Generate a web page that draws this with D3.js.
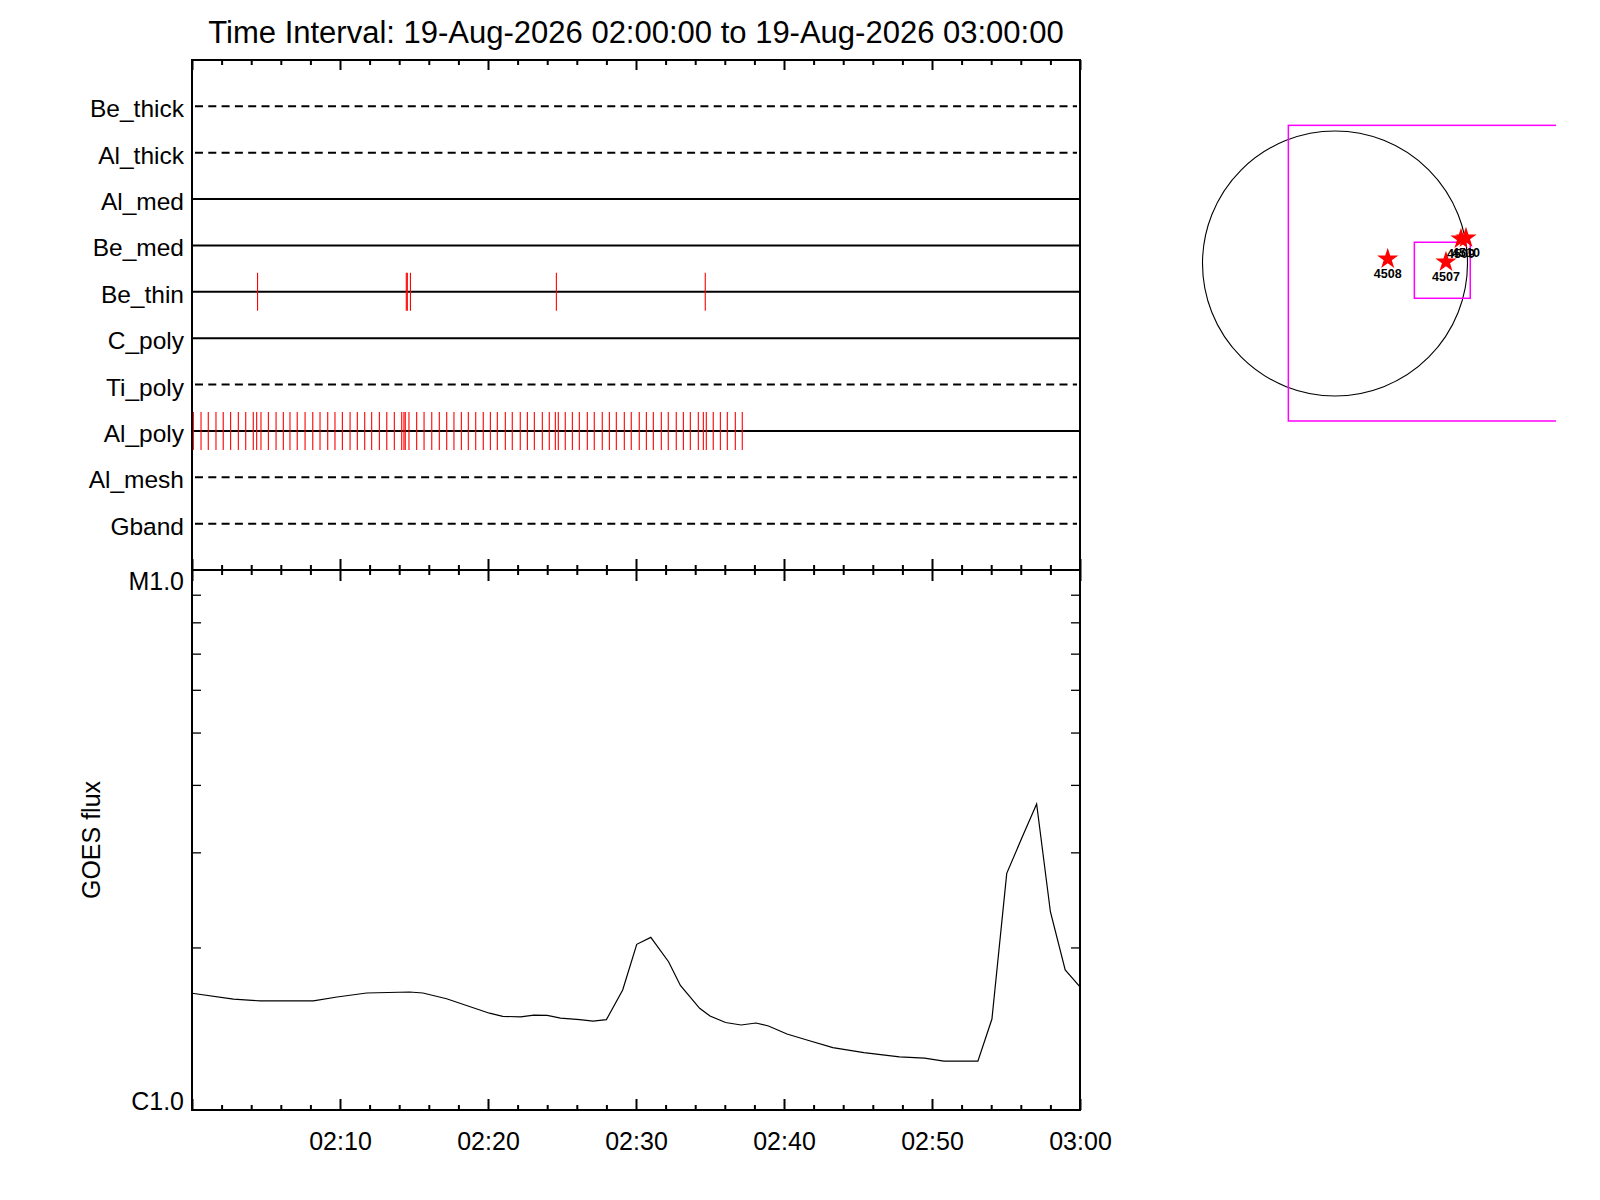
<!DOCTYPE html>
<html><head><meta charset="utf-8">
<script src="https://cdn.jsdelivr.net/npm/d3@7"></script>
<style>
body{margin:0;background:#fff}
svg{display:block}
text{font-family:"Liberation Sans",Arial,Helvetica,sans-serif;fill:#000}
</style>
</head><body>
<svg id="c" width="1600" height="1200"></svg>
<script>
// ---------------- DATA ----------------
const titleText = "Time Interval: 19-Aug-2026 02:00:00 to 19-Aug-2026 03:00:00";
const startUTC = Date.UTC(2026, 7, 19, 2, 0, 0);
const endUTC = Date.UTC(2026, 7, 19, 3, 0, 0);

const channels = ["Be_thick","Al_thick","Al_med","Be_med","Be_thin","C_poly","Ti_poly","Al_poly","Al_mesh","Gband"];
const channelActive = [false,false,true,true,true,true,false,true,false,false];

// event times, minutes after 02:00
const beThinEvents = [4.43, 14.48, 14.55, 14.76, 24.62, 34.68];
const alPolyEvents = [0.09,0.61,1.10,1.62,2.11,2.61,3.13,3.63,4.14,4.37,4.66,5.16,5.68,6.17,6.62,7.11,7.64,8.16,8.65,9.17,
  9.66,10.16,10.68,11.17,11.67,12.14,12.66,13.16,13.67,14.17,14.32,14.41,14.66,15.18,15.68,16.20,16.71,17.21,17.70,18.20,
  18.67,19.17,19.68,20.16,20.63,21.17,21.64,22.18,22.66,23.13,23.67,24.14,24.55,24.75,25.22,25.70,26.17,26.71,27.18,27.72,
  28.20,28.67,29.21,29.68,30.22,30.70,31.17,31.71,32.18,32.72,33.20,33.67,34.21,34.55,34.75,35.22,35.70,36.17,36.71,37.18];

// GOES flux (W/m^2), times in minutes after 02:00
const goesTimes = [0,2.8,4.6,8.2,9.8,11.8,14.7,15.6,17.2,20.1,21.0,22.2,23.1,24.0,24.9,26.2,27.1,28.0,29.1,30.05,
  31.0,32.2,33.0,34.3,35.0,36.05,37.1,38.1,38.95,40.2,41.55,43.3,45.4,47.8,49.5,50.8,53.1,54.05,55.05,56.06,
  57.07,58.0,59.0,60.0];
const goesFlux = [1.645,1.605,1.592,1.592,1.619,1.647,1.654,1.647,1.607,1.511,1.491,1.487,1.498,1.497,1.480,1.470,1.461,1.470,1.668,2.027,
  2.088,1.882,1.701,1.543,1.493,1.452,1.437,1.449,1.431,1.383,1.348,1.305,1.277,1.254,1.248,1.232,1.232,1.474,2.743,3.185,
  3.687,2.329,1.817,1.691].map(v => v * 1e-6);

const xTickLabels = ["02:10","02:20","02:30","02:40","02:50","03:00"];
const yTickLabels = ["C1.0","M1.0"];
const yTickValues = [1e-6, 1e-5];
const yMinorValues = [2e-6,3e-6,4e-6,5e-6,6e-6,7e-6,8e-6,9e-6];
const yAxisTitle = "GOES flux";

// Solar disk overlay (arcsec)
const solarRadius = 960;
const arNumbers = ["4508","4507","4509","4510"];
const arX = [382, 804, 913, 949];
const arY = [33, 11, 178, 185];
const fovX = [-338, 1700];
const fovY = [-1141, 1001];
const roiX = [575, 980];
const roiY = [-252, 154];

// ---------------- LAYOUT ----------------
const L = 192, R = 1080, T = 60, M = 570, B = 1110;
const svg = d3.select("#c");

const x = d3.scaleUtc().domain([new Date(startUTC), new Date(endUTC)]).range([L, R]);
const tm = m => new Date(startUTC + m * 60000);
const yRow = d3.scalePoint().domain(channels).range([T, M]).padding(1);
const y = d3.scaleLog().domain([1e-6, 1e-5]).range([B, M]);

// title
svg.append("text").attr("x", (L + R) / 2).attr("y", 43).attr("text-anchor", "middle")
  .attr("font-size", 31).text(titleText);

// ---------------- TOP PANEL ----------------
const topG = svg.append("g");
channels.forEach((c, i) => {
  const yy = yRow(c);
  topG.append("line").attr("x1", channelActive[i] ? L : L + 3).attr("x2", channelActive[i] ? R : R - 3)
    .attr("y1", yy).attr("y2", yy).attr("stroke", "#000").attr("stroke-width", 2)
    .attr("stroke-dasharray", channelActive[i] ? null : "8,5.3");
  topG.append("text").attr("x", 184).attr("y", yy + 11).attr("text-anchor", "end")
    .attr("font-size", 24.5).text(c);
});
function events(name, arr) {
  const yy = yRow(name);
  topG.selectAll(null).data(arr).enter().append("line")
    .attr("x1", d => x(tm(d))).attr("x2", d => x(tm(d)))
    .attr("y1", yy - 19).attr("y2", yy + 19)
    .attr("stroke", "#ff0000").attr("stroke-width", 1.1);
}
events("Be_thin", beThinEvents);
events("Al_poly", alPolyEvents);

// ---------------- X AXES ----------------
const majorT = d3.utcMinute.every(10).range(new Date(startUTC), new Date(endUTC + 1));
const minorT = d3.utcMinute.every(2).range(new Date(startUTC), new Date(endUTC + 1)).filter(d => d.getUTCMinutes() % 10 !== 0);
function ticks(gen, yPos, vals, size) {
  const g = svg.append("g").attr("transform", `translate(0,${yPos})`)
    .call(gen(x).tickValues(vals).tickSize(size).tickFormat(""));
  g.select(".domain").remove();
  g.selectAll("line").attr("stroke-width", 2);
}
ticks(d3.axisBottom, T, majorT, 10);
ticks(d3.axisBottom, T, minorT, 5);
ticks(d3.axisTop, M, majorT, 11);
ticks(d3.axisTop, M, minorT, 5);
ticks(d3.axisBottom, M, majorT, 11);
ticks(d3.axisBottom, M, minorT, 5);
ticks(d3.axisTop, B, majorT, 11);
ticks(d3.axisTop, B, minorT, 5);
const lab = svg.append("g").attr("transform", `translate(0,${B})`)
  .call(d3.axisBottom(x).tickValues(xTickLabels.map(s => {
      const [h, m] = s.split(":").map(Number); return new Date(Date.UTC(2026, 7, 19, h, m, 0));
    })).tickSize(0).tickPadding(22.5).tickFormat(d3.utcFormat("%H:%M")));
lab.select(".domain").remove();
lab.selectAll("text").attr("font-size", 25).attr("font-family", "'Liberation Sans',Arial,sans-serif");

// ---------------- Y AXES (lower panel) ----------------
const yl = svg.append("g").attr("transform", `translate(${L},0)`)
  .call(d3.axisRight(y).tickValues(yMinorValues).tickSize(9).tickFormat(""));
yl.select(".domain").remove();
yl.selectAll("line").attr("stroke-width", 1.3);
const yr = svg.append("g").attr("transform", `translate(${R},0)`)
  .call(d3.axisLeft(y).tickValues(yMinorValues).tickSize(9).tickFormat(""));
yr.select(".domain").remove();
yr.selectAll("line").attr("stroke-width", 1.3);

svg.append("text").attr("x", 184).attr("y", y(yTickValues[0])).attr("text-anchor", "end")
  .attr("font-size", 25).text(yTickLabels[0]);
svg.append("text").attr("x", 184).attr("y", y(yTickValues[1]) + 19.5).attr("text-anchor", "end")
  .attr("font-size", 25).text(yTickLabels[1]);
svg.append("text").attr("transform", `translate(100,${(M + B) / 2}) rotate(-90)`)
  .attr("text-anchor", "middle").attr("font-size", 25).text(yAxisTitle);

// GOES curve
const line = d3.line().x((d, i) => x(tm(goesTimes[i]))).y(d => y(d));
svg.append("path").datum(goesFlux).attr("d", line).attr("fill", "none")
  .attr("stroke", "#000").attr("stroke-width", 1.2);

// frames
svg.append("rect").attr("x", L).attr("y", T).attr("width", R - L).attr("height", M - T)
  .attr("fill", "none").attr("stroke", "#000").attr("stroke-width", 2);
svg.append("rect").attr("x", L).attr("y", M).attr("width", R - L).attr("height", B - M)
  .attr("fill", "none").attr("stroke", "#000").attr("stroke-width", 2);

// ---------------- SUN ----------------
const cx0 = 1335, cy0 = 263.5, rPx = 132.5;
const sx = d3.scaleLinear().domain([-solarRadius, solarRadius]).range([cx0 - rPx, cx0 + rPx]);
const sy = d3.scaleLinear().domain([-solarRadius, solarRadius]).range([cy0 + rPx, cy0 - rPx]);
const defs = svg.append("defs");
defs.append("clipPath").attr("id", "sunclip").append("rect")
  .attr("x", 1150).attr("y", 100).attr("width", 406).attr("height", 340);
const sun = svg.append("g").attr("clip-path", "url(#sunclip)");
sun.append("circle").attr("cx", sx(0)).attr("cy", sy(0)).attr("r", sx(solarRadius) - sx(0))
  .attr("fill", "none").attr("stroke", "#000").attr("stroke-width", 1.1);
sun.append("rect").attr("x", sx(fovX[0])).attr("y", sy(fovY[1]))
  .attr("width", sx(fovX[1]) - sx(fovX[0])).attr("height", sy(fovY[0]) - sy(fovY[1]))
  .attr("fill", "none").attr("stroke", "#ff00ff").attr("stroke-width", 1.5);
sun.append("rect").attr("x", sx(roiX[0])).attr("y", sy(roiY[1]))
  .attr("width", sx(roiX[1]) - sx(roiX[0])).attr("height", sy(roiY[0]) - sy(roiY[1]))
  .attr("fill", "none").attr("stroke", "#ff00ff").attr("stroke-width", 1.5);
const star = d3.symbol(d3.symbolStar, 140);
arNumbers.forEach((n, i) => {
  sun.append("path").attr("d", star()).attr("transform", `translate(${sx(arX[i])},${sy(arY[i])})`)
    .attr("fill", "#ff0000");
});
arNumbers.forEach((n, i) => {
  sun.append("text").attr("x", sx(arX[i])).attr("y", sy(arY[i]) + 19).attr("text-anchor", "middle")
    .attr("font-size", 12.5).attr("font-weight", "bold").text(n);
});
</script>
</body></html>
